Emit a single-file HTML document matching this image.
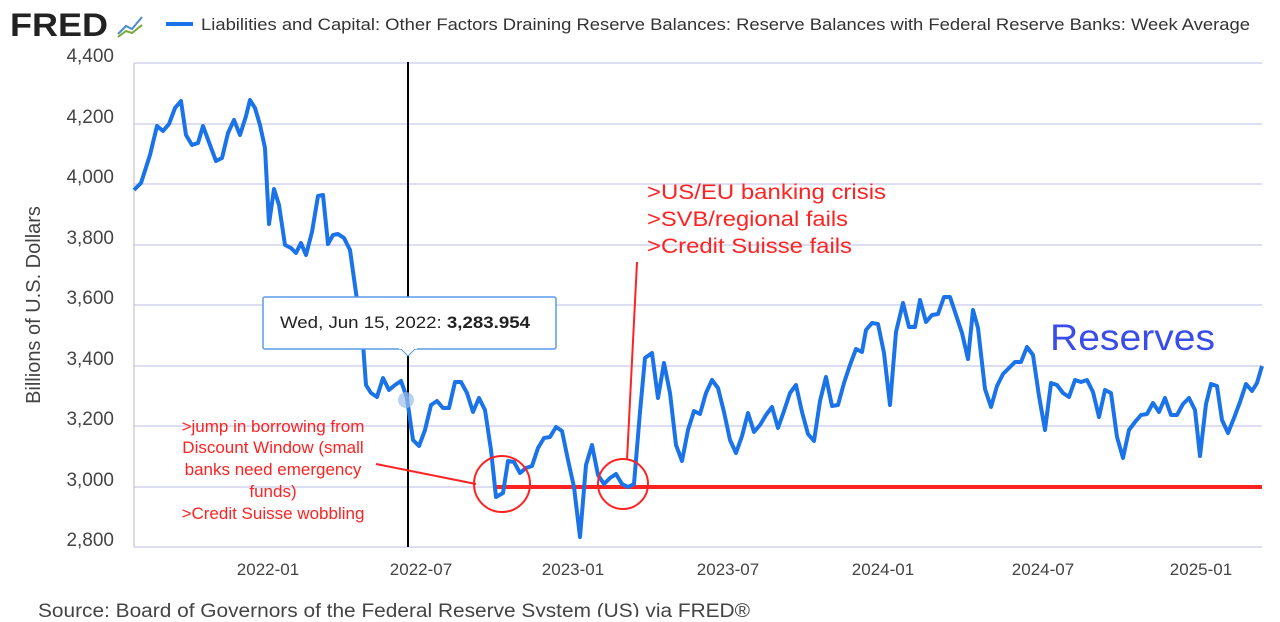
<!DOCTYPE html><html><head><style>body{margin:0;background:#fff;width:1280px;height:617px;overflow:hidden;font-family:"Liberation Sans",sans-serif}</style></head><body>
<svg width="1280" height="617" xmlns="http://www.w3.org/2000/svg" font-family="Liberation Sans, sans-serif">
<text x="10" y="36" font-size="32" font-weight="bold" fill="#222" textLength="98" lengthAdjust="spacingAndGlyphs">FRED</text>
<polyline points="118,34 126,26 132,29 142,17" fill="none" stroke="#4a8ad0" stroke-width="2"/>
<polyline points="118,37 126,31 132,33 142,25" fill="none" stroke="#7a3" stroke-width="2"/>
<line x1="166" y1="24" x2="193" y2="24" stroke="#1a73e8" stroke-width="4"/>
<text x="201" y="30" font-size="17" fill="#333" textLength="1049" lengthAdjust="spacingAndGlyphs">Liabilities and Capital: Other Factors Draining Reserve Balances: Reserve Balances with Federal Reserve Banks: Week Average</text>
<g stroke="#d2d4ee" stroke-width="1.5">
<line x1="134" y1="63" x2="1262" y2="63"/><line x1="134" y1="124" x2="1262" y2="124"/><line x1="134" y1="184" x2="1262" y2="184"/><line x1="134" y1="245" x2="1262" y2="245"/><line x1="134" y1="305" x2="1262" y2="305"/><line x1="134" y1="366" x2="1262" y2="366"/><line x1="134" y1="426" x2="1262" y2="426"/><line x1="134" y1="487" x2="1262" y2="487"/><line x1="134" y1="547" x2="1262" y2="547"/>
</g>
<line x1="134" y1="63" x2="134" y2="547" stroke="#bbb"/>
<g font-size="19" fill="#444" text-anchor="end">
<text x="114" y="62">4,400</text><text x="114" y="123">4,200</text><text x="114" y="183">4,000</text><text x="114" y="244">3,800</text><text x="114" y="304">3,600</text><text x="114" y="365">3,400</text><text x="114" y="425">3,200</text><text x="114" y="486">3,000</text><text x="114" y="546">2,800</text>
</g>
<text transform="translate(40,305) rotate(-90)" font-size="20" fill="#444" text-anchor="middle">Billions of U.S. Dollars</text>
<g font-size="17" fill="#444" text-anchor="middle">
<text x="268" y="575">2022-01</text><text x="421" y="575">2022-07</text><text x="573" y="575">2023-01</text><text x="728" y="575">2023-07</text><text x="883" y="575">2024-01</text><text x="1043" y="575">2024-07</text><text x="1201" y="575">2025-01</text>
</g>
<text x="38" y="617" font-size="19" fill="#444" textLength="712" lengthAdjust="spacingAndGlyphs">Source: Board of Governors of the Federal Reserve System (US) via FRED®</text>
<line x1="408" y1="62" x2="408" y2="547" stroke="#000" stroke-width="2"/>
<line x1="493" y1="487" x2="1262" y2="487" stroke="#f22" stroke-width="4"/>
<polyline fill="none" stroke="#1a73e8" stroke-width="4" stroke-linejoin="round" points="134,190 141,183 150,155 157,126 163,131 169,124 175,108 181,101 186,135 192,145 198,143 203,126 210,145 216,161 222,158 228,133 234,120 240,135 246,116 250,100 255,108 260,125 265,148 269,224 274,189 279,205 285,245 291,248 296,253 301,243 306,255 312,232 318,196 323,195 328,244 333,235 338,234 344,238 350,250 357,300 362,330 366,385 371,393 377,397 383,378 389,390 395,385 401,381 407,398 413,440 419,446 425,430 431,405 437,401 443,408 449,408 455,382 461,382 467,393 473,412 479,398 485,410 491,450 496,497 503,493 508,461 514,462 520,473 526,468 532,466 538,448 544,438 550,437 556,427 562,431 568,460 574,487 580,537 586,465 592,445 598,475 604,484 610,478 616,474 622,484 628,487 634,484 640,412 645,358 652,353 658,398 664,363 670,393 676,445 682,461 688,430 694,411 700,414 706,393 712,380 718,388 724,412 730,440 736,453 742,436 748,413 754,432 760,425 766,415 772,407 778,428 784,411 790,393 796,385 802,412 808,434 814,441 820,401 826,377 832,406 838,405 844,383 850,365 856,349 862,352 866,330 872,323 878,324 884,353 890,405 896,332 903,303 909,327 915,327 920,300 926,322 932,315 938,314 944,297 950,297 956,315 962,333 968,359 973,310 978,328 985,389 991,407 997,386 1003,374 1009,368 1015,362 1021,362 1027,347 1033,355 1039,396 1045,430 1051,383 1057,385 1063,393 1069,397 1075,380 1081,382 1087,380 1093,392 1099,417 1105,390 1111,393 1117,437 1123,458 1129,430 1135,422 1141,415 1147,414 1153,403 1159,412 1165,398 1171,415 1177,415 1183,404 1189,398 1195,410 1200,456 1206,404 1211,384 1217,386 1222,420 1228,433 1234,418 1240,402 1246,384 1252,391 1257,383 1262,366"/>
<circle cx="406" cy="400" r="8" fill="#9bbfe8" opacity="0.7"/>
<circle cx="502" cy="484" r="28" fill="none" stroke="#f22" stroke-width="2"/>
<circle cx="623" cy="484" r="25" fill="none" stroke="#f22" stroke-width="2"/>
<line x1="376" y1="464" x2="476" y2="484" stroke="#f22" stroke-width="2"/>
<line x1="637" y1="262" x2="627" y2="460" stroke="#f22" stroke-width="2"/>
<rect x="263" y="297" width="293" height="52" fill="#fff" stroke="#5b9be8" stroke-width="1.5" rx="2"/>
<polygon points="400,348 416,348 408,356" fill="#fff" stroke="#5b9be8"/>
<rect x="399" y="346" width="18" height="3" fill="#fff"/>
<text x="280" y="328" font-size="17" fill="#222" textLength="250" lengthAdjust="spacingAndGlyphs">Wed, Jun 15, 2022:  <tspan font-weight="bold">3,283.954</tspan></text>
<g font-size="21" fill="#f22">
<text x="647" y="199" textLength="239" lengthAdjust="spacingAndGlyphs">&gt;US/EU banking crisis</text><text x="647" y="226" textLength="201" lengthAdjust="spacingAndGlyphs">&gt;SVB/regional fails</text><text x="647" y="253" textLength="205" lengthAdjust="spacingAndGlyphs">&gt;Credit Suisse fails</text>
</g>
<g font-size="17" fill="#f22" text-anchor="middle">
<text x="273" y="432">&gt;jump in borrowing from</text><text x="273" y="453">Discount Window (small</text><text x="273" y="475">banks need emergency</text><text x="273" y="497">funds)</text><text x="273" y="519">&gt;Credit Suisse wobbling</text>
</g>
<text x="1050" y="350" font-size="37" fill="#3a4de8" textLength="165" lengthAdjust="spacingAndGlyphs">Reserves</text>
</svg></body></html>
